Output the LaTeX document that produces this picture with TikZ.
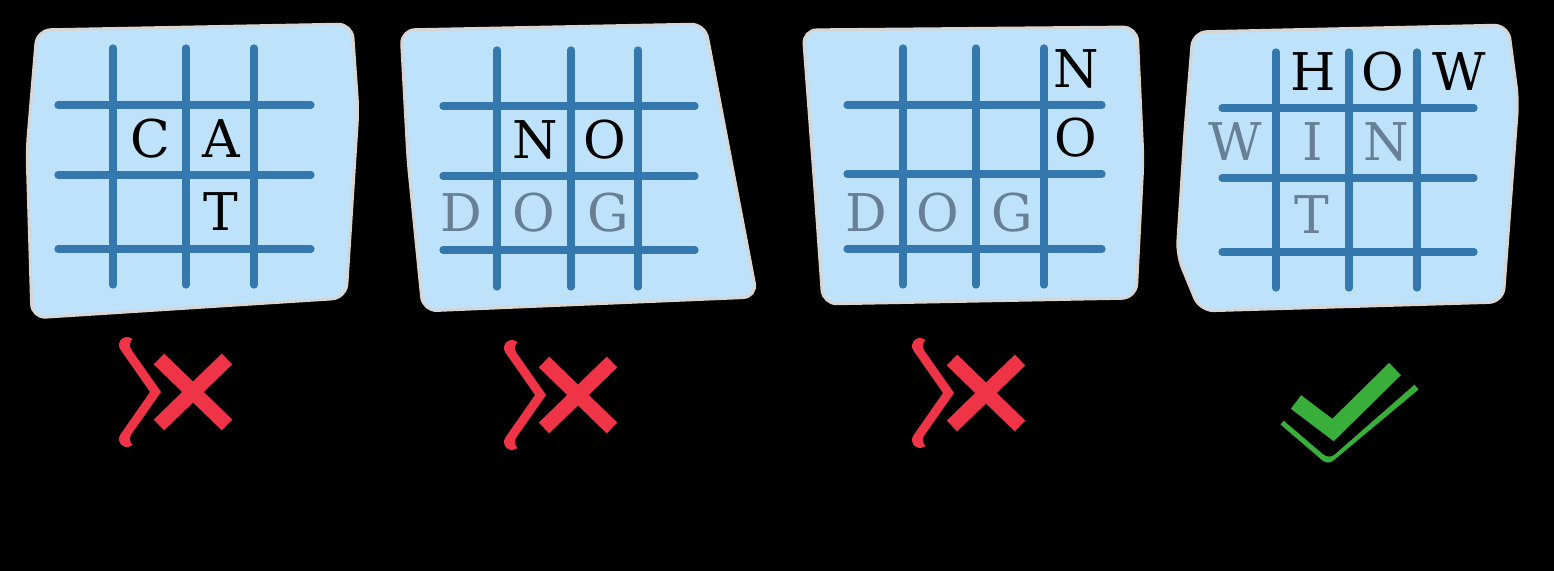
\documentclass[tikz,border=0pt]{standalone}
\usepackage{fontspec}
\newfontfamily\gridfont{DejaVu Serif}

\definecolor{panelblue}{RGB}{190,226,250}
\definecolor{panelhalo}{RGB}{214,214,214}
\definecolor{gridblue}{RGB}{52,120,174}
\definecolor{ghostgray}{RGB}{104,128,150}
\definecolor{crossred}{RGB}{238,52,70}
\definecolor{tickgreen}{RGB}{58,174,58}

\tikzset{
  panel/.style={fill=panelblue, draw=panelhalo, line width=1.5pt, rounded corners=7pt},
  gridline/.style={draw=gridblue, line width=3.6pt, line cap=round},
  letter/.style={font=\gridfont\fontsize{26}{28}\selectfont, text=black, inner sep=0pt},
  ghost/.style={letter, text=ghostgray},
  crossmark/.pic={
    \draw[crossred, line width=8pt, line cap=round] (-66,-47) -- (-22,16) (-66,47) -- (-22,-16);
    \draw[black, line width=8pt, line cap=round] (-55,-47) -- (11,47) (-55,47) -- (11,-47);
    \draw[crossred, line width=7.5pt] (-34,-33) -- (34,33) (-34,33) -- (34,-33);
  },
  tickmark/.pic={
    \draw[tickgreen, line width=8.5pt, line join=round] (-47,12) -- (-5,-24) -- (80,47);
    \draw[black, line width=8.5pt, line join=round] (-45,17) -- (-4,-18) -- (76,52);
    \draw[tickgreen, line width=8.5pt] (-37,28) -- (0,0) -- (62,61);
  }
}

\begin{document}
\begin{tikzpicture}[x=0.5pt,y=0.5pt,yscale=-1,xscale=1]
	\fill[black] (0,0) rectangle (1554,571);
	\useasboundingbox (0,0) rectangle (1554,571);

	%Shape: panels
	\draw[panel] (37,30) -- (352,24) -- (358,110) -- (346,298) -- (32,318) -- (27,150) -- cycle;
	\draw[panel] (401,30) -- (705,24) -- (757,297) -- (423,311) -- (408,160) -- cycle;
	\draw[panel] (803,30) -- (1137,27) -- (1143,160) -- (1136,298) -- (823,304) -- (815,190) -- cycle;
	\draw[panel] (1193,32) -- (1508,25) -- (1518,100) -- (1503,302) -- (1200,311) -- (1177,255) -- (1185,130) -- cycle;

	%Straight Lines: grids
	\foreach \gx in {113,186,254} \draw[gridline] (\gx,48) -- (\gx,285);
	\foreach \gy in {105,175,249} \draw[gridline] (58,\gy) -- (311,\gy);
	\foreach \gx in {497,571,638} \draw[gridline] (\gx,50) -- (\gx,287);
	\foreach \gy in {106,176,250} \draw[gridline] (443,\gy) -- (695,\gy);
	\foreach \gx in {903,976,1044} \draw[gridline] (\gx,48) -- (\gx,285);
	\foreach \gy in {105,174,249} \draw[gridline] (847,\gy) -- (1102,\gy);
	\foreach \gx in {1276,1349,1417} \draw[gridline] (\gx,52) -- (\gx,288);
	\foreach \gy in {108,178,252} \draw[gridline] (1222,\gy) -- (1474,\gy);

	% Text Node
	\node[letter] (catC) at (150,139) {C};
	\node[letter] (catA) at (221,139) {A};
	\node[letter] (catT) at (221,212) {T};
	% Text Node
	\node[letter] (noN) at (535,140) {N};
	\node[letter] (noO) at (605,140) {O};
	\node[ghost] (dogD) at (461,213) {D};
	\node[ghost] (dogO) at (534,213) {O};
	\node[ghost] (dogG) at (608,213) {G};
	% Text Node
	\node[letter] (downN) at (1076,69) {N};
	\node[letter] (downO) at (1076,138) {O};
	\node[ghost] (rowD) at (866,213) {D};
	\node[ghost] (rowO) at (938,213) {O};
	\node[ghost] (rowG) at (1012,213) {G};
	% Text Node
	\node[letter] (howH) at (1313,72) {H};
	\node[letter] (howO) at (1383,72) {O};
	\node[letter] (howW) at (1459,72) {W};
	\node[ghost] (winW) at (1235,142) {W};
	\node[ghost] (winI) at (1313,142) {I};
	\node[ghost] (winN) at (1386,142) {N};
	\node[ghost] (witT) at (1312,215) {T};

	%Marks
	\pic at (193,392) {crossmark};
	\pic at (578,395) {crossmark};
	\pic at (986,393) {crossmark};
	\pic at (1333,430) {tickmark};

\end{tikzpicture}
\end{document}
